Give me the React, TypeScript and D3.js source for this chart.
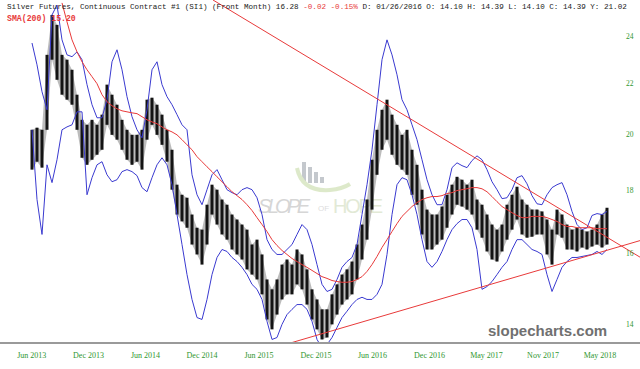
import React from "react";
import * as d3 from "d3";

// bar index 0..115 (evenly spaced trading periods)
const priceHigh = [20.17,20.25,20.17,23.21,25.01,24.55,23.21,23.0,22.57,21.54,20.55,20.36,20.55,20.36,20.75,21.95,21.54,21.14,20.55,20.17,19.98,19.98,20.17,21.34,21.42,21.14,20.75,20.17,19.43,18.2,17.86,17.76,17.21,16.79,16.73,17.53,18.2,18.03,17.7,17.53,17.21,17.05,16.89,16.73,16.27,16.42,15.97,15.24,14.96,15.24,15.67,15.82,15.67,16.12,15.97,15.53,14.96,14.68,14.41,14.41,14.82,15.1,15.38,15.53,15.76,16.27,16.89,17.7,19.07,20.17,20.94,21.34,20.75,20.36,19.98,20.17,19.43,18.89,18.03,17.37,17.21,17.21,17.47,17.86,18.2,18.47,18.37,18.2,18.37,17.7,17.53,17.21,16.89,16.73,16.89,17.53,17.86,18.13,17.7,17.53,17.37,17.37,17.31,17.05,16.73,17.37,17.21,16.89,16.73,16.79,16.73,16.67,16.73,16.89,17.21,17.43];
const priceLow = [18.72,19.0,18.79,20.17,23.0,22.15,21.54,21.34,21.14,20.17,19.14,18.89,19.07,19.25,19.43,20.36,19.98,19.8,19.43,19.07,18.89,19.0,18.72,19.8,20.36,19.98,19.61,19.0,18.03,17.21,16.99,16.79,16.27,15.97,15.67,16.27,17.21,16.89,16.58,16.42,16.12,15.97,15.82,15.53,15.38,15.24,14.82,14.14,13.88,14.27,14.68,14.82,14.82,15.1,14.96,14.54,14.14,13.88,13.62,13.67,14.01,14.27,14.54,14.68,14.82,15.24,15.82,16.42,17.37,18.54,19.43,19.8,19.25,18.89,18.72,18.54,17.86,17.53,16.58,16.12,16.12,16.27,16.42,16.79,17.21,17.53,17.47,17.37,17.21,16.73,16.48,16.06,15.82,15.76,16.06,16.42,16.73,17.05,16.58,16.48,16.51,16.58,16.58,15.97,15.67,16.58,16.48,16.12,16.12,16.06,16.18,16.12,16.21,16.27,16.18,16.27];
const upperBand = [23.73,22.78,21.66,20.94,25.01,25.48,23.87,23.21,23.13,23.34,23.0,21.95,21.14,20.63,20.63,21.34,22.91,23.43,22.57,21.46,20.67,20.17,19.87,20.94,22.57,22.91,21.95,21.46,21.14,20.75,20.36,20.17,18.54,17.86,17.53,18.03,18.54,18.72,18.37,18.03,17.93,17.86,18.03,18.1,18.03,17.76,17.21,16.42,16.12,15.97,15.97,16.12,16.27,16.58,16.89,16.73,16.27,15.67,15.1,14.9,14.96,15.24,15.59,15.76,15.88,16.27,17.21,18.2,19.43,21.14,23.0,23.87,23.21,22.36,21.34,20.94,20.36,19.8,19.07,18.37,17.86,17.53,17.53,18.03,18.79,18.96,18.86,18.79,19.04,19.21,19.07,18.72,18.3,18.03,17.73,17.76,18.03,18.44,18.51,18.23,17.83,17.56,17.53,17.86,18.1,18.2,18.27,17.86,17.31,16.89,16.73,16.79,17.18,17.24,17.21,17.31];
const lowerBand = [20.17,17.7,16.58,18.89,18.27,19.07,20.17,20.28,20.36,20.86,20.86,17.86,18.44,18.89,19.0,18.54,18.3,18.37,18.65,18.72,18.65,18.51,18.1,17.96,18.44,18.89,19.14,18.89,18.2,17.21,16.27,15.38,14.68,14.19,14.14,14.68,15.38,15.88,16.12,16.06,15.88,15.76,15.59,15.38,15.1,14.96,14.68,14.09,13.62,13.67,14.01,14.27,14.41,14.54,14.54,14.41,14.09,13.62,13.41,13.49,13.67,13.93,14.19,14.36,14.54,14.68,14.74,14.68,14.68,14.82,15.1,15.97,17.21,18.2,18.44,18.37,17.86,17.21,16.42,15.76,15.59,15.76,16.06,16.42,16.73,16.92,17.05,17.05,16.79,16.12,14.96,15.04,15.18,15.38,15.59,15.76,16.12,16.42,16.42,16.27,16.12,16.06,15.97,15.38,14.9,15.24,15.59,15.76,15.88,15.88,15.91,15.94,15.97,16.06,15.97,16.12];
const sma200 = [null,null,null,null,null,null,25.58,24.69,23.87,23.34,22.91,22.57,22.28,21.99,21.54,21.26,21.1,20.98,20.9,20.86,20.82,20.79,20.67,20.55,20.47,20.4,20.28,20.17,20.09,19.98,19.8,19.61,19.43,19.18,19.0,18.82,18.65,18.47,18.3,18.13,17.96,17.83,17.7,17.53,17.34,17.11,16.89,16.67,16.42,16.24,16.09,15.97,15.85,15.76,15.67,15.59,15.5,15.41,15.32,15.27,15.21,15.18,15.16,15.16,15.18,15.24,15.32,15.47,15.67,15.91,16.18,16.42,16.67,16.92,17.15,17.31,17.47,17.6,17.7,17.76,17.8,17.8,17.83,17.9,17.93,18.0,18.03,18.06,18.1,18.1,18.06,17.96,17.8,17.63,17.47,17.37,17.27,17.18,17.11,17.11,17.15,17.15,17.15,17.11,17.05,16.99,16.89,16.83,16.83,16.79,16.79,16.79,16.79,16.76,16.76,16.76];
const trendDown = [[36.2, 25.72], [121.6, 15.89]];
const trendUp = [[50.6, 13.49], [121.6, 16.39]];
const yTicks = [14, 16, 18, 20, 22, 24];
const xTickLabels = ["Jun 2013","Dec 2013","Jun 2014","Dec 2014","Jun 2015","Dec 2015","Jun 2016","Dec 2016","May 2017","Nov 2017","May 2018"];
const xTickIdx = [-0.06, 11.3, 22.7, 34.0, 45.4, 56.8, 68.1, 79.5, 90.9, 102.2, 113.6];

const W = 640, H = 369, AXIS_Y = 343;

export default function App() {
  const x = d3.scaleLinear().domain([0, 115]).range([32, 607]);
  const y = d3.scaleLog().domain([13.53, 25.72]).range([AXIS_Y, 0]);
  const idx = d3.range(priceHigh.length);
  const mk = (arr: (number | null)[]) =>
    d3.line<number>()
      .defined((i) => arr[i] != null)
      .x((i) => x(i))
      .y((i) => y(arr[i] as number))(idx) || "";
  const seg = (t: number[][]) => d3.line<number[]>().x((d) => x(d[0])).y((d) => y(d[1]))(t) || "";
  const range = d3.area<number>().x((i) => x(i)).y0((i) => y(priceLow[i])).y1((i) => y(priceHigh[i]))(idx) || "";
  const green = "#2f962f";
  const blue = "#3a3ad0";
  const red = "#e83a3a";
  return (
    <svg width={W} height={H} style={{ position: "absolute", left: 0, top: 0, background: "#fff" }}>
      <defs>
        <clipPath id="plot"><rect x={0} y={0} width={W} height={AXIS_Y} /></clipPath>
      </defs>
      {/* watermark */}
      <g opacity={0.6}>
        {[0, 1, 2, 3].map((k) => (
          <rect key={k} x={302 + k * 6} y={162 + k * 5} width={4} height={21 - k * 5} fill="#9ea4ac" />
        ))}
        <path d="M297,168 Q302,192 330,190 Q342,189 350,184" fill="none" stroke="#c8dca8" strokeWidth={4} />
        <text x={258} y={213} fontFamily="Liberation Sans, Arial" fontStyle="italic" fontSize={20} fill="#bcbcbc" textLength={52}>SLOPE</text>
        <text x={318} y={211} fontFamily="Liberation Sans, Arial" fontSize={8} fill="#c8c8c8">OF</text>
        <text x={333} y={213} fontFamily="Liberation Sans, Arial" fontSize={20} fill="#d0dcbc" textLength={50}>HOPE</text>
      </g>
      <g clipPath="url(#plot)">
        <path d={range} fill="#202020" opacity={0.3} />
        {idx.map((i) => (
          <line key={i} x1={x(i)} x2={x(i)} y1={y(priceHigh[i])} y2={y(priceLow[i])} stroke="#141414" strokeWidth={3} />
        ))}
        <path d={mk(upperBand)} fill="none" stroke={blue} strokeWidth={1} />
        <path d={mk(lowerBand)} fill="none" stroke={blue} strokeWidth={1} />
        <path d={mk(sma200)} fill="none" stroke={red} strokeWidth={1} />
        <path d={seg(trendDown)} fill="none" stroke={red} strokeWidth={1} />
        <path d={seg(trendUp)} fill="none" stroke={red} strokeWidth={1} />
      </g>
      <line x1={0} x2={W} y1={AXIS_Y} y2={AXIS_Y} stroke="#9a9a9a" strokeWidth={2} />
      {yTicks.map((t) => (
        <text key={t} x={626} y={y(t) + 2.5} fontFamily="Liberation Serif, Times New Roman, serif" fontSize={7.5} fill={green}>{t}</text>
      ))}
      {xTickLabels.map((l, k) => (
        <text key={l} x={x(xTickIdx[k])} y={358} textAnchor="middle" fontFamily="Liberation Serif, Times New Roman, serif" fontSize={8} fill={green}>{l}</text>
      ))}
      <text x={488} y={336} fontFamily="Liberation Sans, Arial" fontWeight="bold" fontSize={15} fill="#707070">slopecharts.com</text>
      <text x={7} y={9} fontFamily="Liberation Mono, Courier New, monospace" fontSize={7.6} fill="#222" xmlSpace="preserve">
        <tspan>Silver Futures, Continuous Contract #1 (SI1) (Front Month) 16.28 </tspan>
        <tspan fill={red}>-0.02 -0.15%</tspan>
        <tspan> D: 01/26/2016 O: 14.10 H: 14.39 L: 14.10 C: 14.39 Y: 21.02</tspan>
      </text>
      <text x={7} y={21} fontFamily="Liberation Mono, Courier New, monospace" fontWeight="bold" fontSize={8.2} fill={red} xmlSpace="preserve">SMA(200) 15.20</text>
    </svg>
  );
}
